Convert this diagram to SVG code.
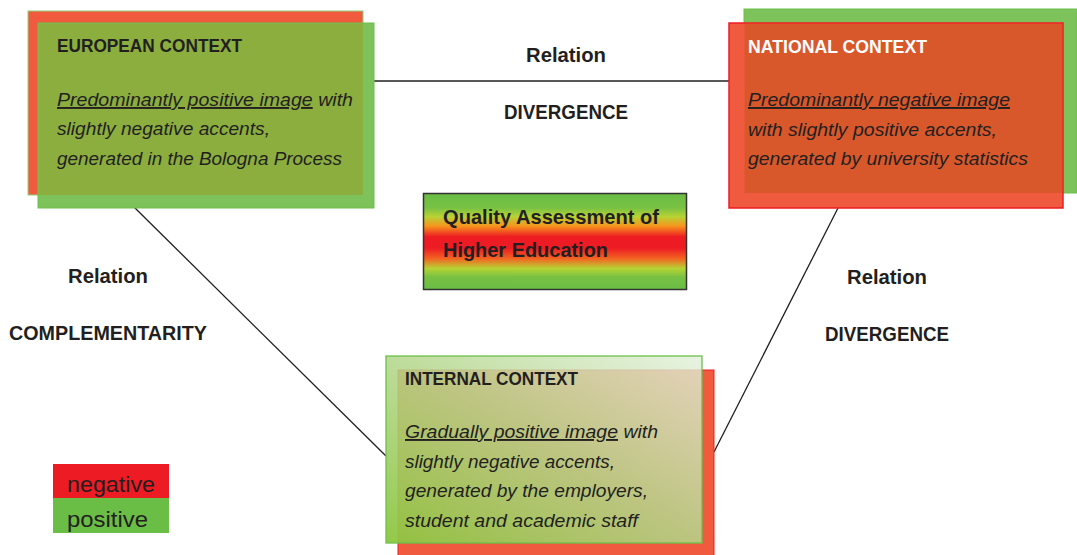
<svg xmlns="http://www.w3.org/2000/svg" width="1077" height="555" viewBox="0 0 1077 555">
<style>
.t{font-family:"Liberation Sans",Arial,sans-serif;fill:#231f20}
.h{font-size:19px;font-weight:bold}
.b{font-size:19px;font-style:italic}
.r{font-size:20px;font-weight:bold;text-anchor:middle}
.c{font-size:21px;font-weight:bold}
.lg{font-size:22px}
.u{text-decoration:underline}
.ln{stroke:#231f20;stroke-width:1.3;fill:none}
</style>
<defs>
<linearGradient id="qa" x1="0" y1="0" x2="0" y2="1">
<stop offset="0" stop-color="#6abd45"/>
<stop offset="0.15" stop-color="#78c143"/>
<stop offset="0.24" stop-color="#b7d334"/>
<stop offset="0.34" stop-color="#f7941d"/>
<stop offset="0.45" stop-color="#ed1c24"/>
<stop offset="0.57" stop-color="#ed1c24"/>
<stop offset="0.68" stop-color="#f26522"/>
<stop offset="0.78" stop-color="#b7d334"/>
<stop offset="0.87" stop-color="#78c143"/>
<stop offset="1" stop-color="#6abd45"/>
</linearGradient>
<linearGradient id="ig" x1="0" y1="1" x2="1" y2="0">
<stop offset="0" stop-color="#8cc63f" stop-opacity="0.95"/>
<stop offset="0.5" stop-color="#b3d68a" stop-opacity="0.86"/>
<stop offset="1" stop-color="#e2f0da" stop-opacity="0.8"/>
</linearGradient>
</defs>
<g id="connectors">
<line class="ln" x1="374" y1="81" x2="729" y2="81"/>
<line class="ln" x1="134" y1="207" x2="386" y2="456"/>
<line class="ln" x1="838" y1="208" x2="714" y2="452"/>
</g>
<g id="european">
<rect x="28" y="11" width="335" height="184" fill="#f05a3e" stroke="#8fd07a" stroke-width="1"/>
<rect x="38" y="23" width="336" height="185" fill="#7dc25a" stroke="#6cc04a" stroke-width="1"/>
<rect x="38.5" y="23.5" width="324.5" height="171.5" fill="#8bae3f"/>
<text class="t h" x="57" y="52" textLength="185" lengthAdjust="spacingAndGlyphs">EUROPEAN CONTEXT</text>
<text class="t b" x="57" y="106" textLength="296" lengthAdjust="spacingAndGlyphs"><tspan class="u">Predominantly positive image</tspan> with</text>
<text class="t b" x="57" y="135" textLength="213" lengthAdjust="spacingAndGlyphs">slightly negative accents,</text>
<text class="t b" x="57" y="165" textLength="285" lengthAdjust="spacingAndGlyphs">generated in the Bologna Process</text>
</g>
<g id="national">
<rect x="744" y="9" width="333" height="184" fill="#7dc25a" stroke="#6cc04a" stroke-width="1"/>
<rect x="729" y="23" width="334" height="185" fill="#f05a3e" stroke="#ed1c24" stroke-width="1.5"/>
<rect x="744.5" y="23.8" width="317.7" height="169.2" fill="#d9582b"/>
<text class="t h" x="748" y="53" textLength="179" lengthAdjust="spacingAndGlyphs" style="fill:#ffffff">NATIONAL CONTEXT</text>
<text class="t b u" x="748" y="106" textLength="262" lengthAdjust="spacingAndGlyphs">Predominantly negative image</text>
<text class="t b" x="748" y="136" textLength="249" lengthAdjust="spacingAndGlyphs">with slightly positive accents,</text>
<text class="t b" x="748" y="165" textLength="280" lengthAdjust="spacingAndGlyphs">generated by university statistics</text>
</g>
<g id="internal">
<rect x="398" y="370" width="316" height="190" fill="#f05a3e" stroke="#ed1c24" stroke-width="1"/>
<rect x="386" y="356" width="316" height="187" fill="url(#ig)" stroke="#6cc04a" stroke-width="1.3"/>
<text class="t h" x="405" y="385" textLength="173" lengthAdjust="spacingAndGlyphs">INTERNAL CONTEXT</text>
<text class="t b" x="405" y="438" textLength="253" lengthAdjust="spacingAndGlyphs"><tspan class="u">Gradually positive image</tspan> with</text>
<text class="t b" x="405" y="468" textLength="210" lengthAdjust="spacingAndGlyphs">slightly negative accents,</text>
<text class="t b" x="405" y="497" textLength="243" lengthAdjust="spacingAndGlyphs">generated by the employers,</text>
<text class="t b" x="405" y="527" textLength="233" lengthAdjust="spacingAndGlyphs">student and academic staff</text>
</g>
<g id="quality">
<rect x="423.5" y="193.5" width="263" height="96" fill="url(#qa)" stroke="#333333" stroke-width="1.5"/>
<text class="t c" x="443" y="224" textLength="216" lengthAdjust="spacingAndGlyphs">Quality Assessment of</text>
<text class="t c" x="443" y="257" textLength="165" lengthAdjust="spacingAndGlyphs">Higher Education</text>
</g>
<g id="rel-top">
<text class="t r" x="566" y="62" textLength="80" lengthAdjust="spacingAndGlyphs">Relation</text>
<text class="t r" x="566" y="119" textLength="124" lengthAdjust="spacingAndGlyphs">DIVERGENCE</text>
</g>
<g id="rel-left">
<text class="t r" x="108" y="283" textLength="80" lengthAdjust="spacingAndGlyphs">Relation</text>
<text class="t r" x="108" y="340" textLength="198" lengthAdjust="spacingAndGlyphs">COMPLEMENTARITY</text>
</g>
<g id="rel-right">
<text class="t r" x="887" y="284" textLength="80" lengthAdjust="spacingAndGlyphs">Relation</text>
<text class="t r" x="887" y="341" textLength="124" lengthAdjust="spacingAndGlyphs">DIVERGENCE</text>
</g>
<g id="legend">
<rect x="53" y="464" width="116" height="34" fill="#ed1c24"/>
<rect x="53" y="498" width="116" height="35" fill="#6abd45"/>
<text class="t lg" x="67" y="492" textLength="88" lengthAdjust="spacingAndGlyphs">negative</text>
<text class="t lg" x="67" y="527" textLength="81" lengthAdjust="spacingAndGlyphs">positive</text>
</g>
</svg>
